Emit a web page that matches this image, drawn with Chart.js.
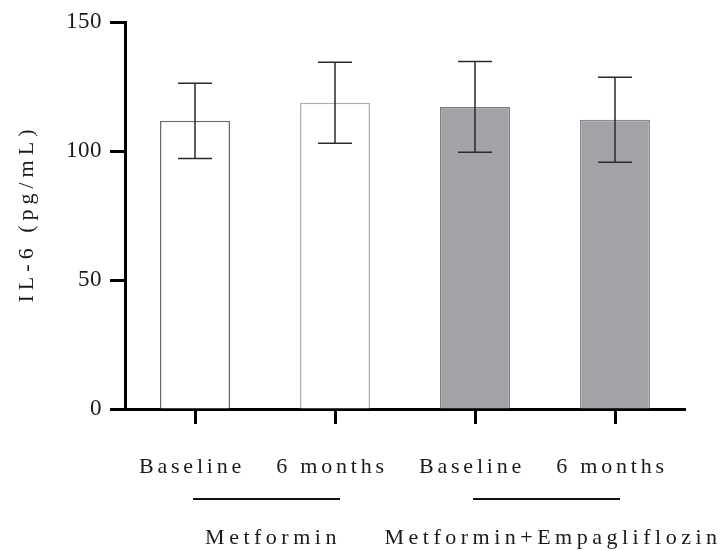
<!DOCTYPE html>
<html>
<head>
<meta charset="utf-8">
<style>
    html, body { margin: 0; padding: 0; background: #fff; }
    #wrap { width: 726px; height: 551px; }
</style>
<script src="https://cdn.jsdelivr.net/npm/chart.js@4.4.1/dist/chart.umd.min.js"></script>
</head>
<body>
<div id="wrap"><canvas id="il6Chart" width="726" height="551"></canvas></div>
<script>
const categories = ['Baseline', '6 months', 'Baseline', '6 months'];
const groups = [
    {label: 'Metformin', from: 0, to: 1},
    {label: 'Metformin+Empagliflozin', from: 2, to: 3}
];
const means = [111.7, 118.7, 117.1, 112.1];
const sds = [14.6, 15.7, 17.6, 16.5];
const yTicks = [0, 50, 100, 150];
const yTitle = 'IL-6 (pg/mL)';

const fontFamily = "'Liberation Serif', 'Times New Roman', serif";

document.addEventListener('DOMContentLoaded', function () {
    const ctx = document.getElementById('il6Chart').getContext('2d');

    const spacing = {
        id: 'spacing',
        beforeDraw(chart) {
            // spread digits a little like the original
            chart.ctx.letterSpacing = '0.5px';
        }
    };

    const errorBars = {
        id: 'errorBars',
        afterDatasetsDraw(chart) {
            const {ctx, scales: {y}} = chart;
            const meta = chart.getDatasetMeta(0);
            ctx.save();
            ctx.strokeStyle = '#2a2a2a';
            ctx.lineWidth = 1.5;
            meta.data.forEach((bar, i) => {
                const top = y.getPixelForValue(means[i] + sds[i]);
                const bot = y.getPixelForValue(means[i] - sds[i]);
                ctx.beginPath();
                ctx.moveTo(bar.x, top);
                ctx.lineTo(bar.x, bot);
                ctx.moveTo(bar.x - 17, top);
                ctx.lineTo(bar.x + 17, top);
                ctx.moveTo(bar.x - 17, bot);
                ctx.lineTo(bar.x + 17, bot);
                ctx.stroke();
            });
            ctx.restore();
        }
    };

    const labels = {
        id: 'labels',
        afterDraw(chart) {
            const {ctx, chartArea, scales: {x}} = chart;
            const base = chartArea.bottom;
            ctx.save();
            ctx.fillStyle = '#1a1a1a';
            ctx.textBaseline = 'alphabetic';
            ctx.textAlign = 'center';

            ctx.font = '22px ' + fontFamily;
            ctx.letterSpacing = '3.8px';
            categories.forEach((c, i) => {
                ctx.fillText(c, x.getPixelForValue(i) - 3, base + 64);
            });

            ctx.letterSpacing = '4.5px';
            ctx.strokeStyle = '#111';
            ctx.lineWidth = 2;
            groups.forEach(g => {
                const x1 = x.getPixelForValue(g.from);
                const x2 = x.getPixelForValue(g.to);
                ctx.beginPath();
                ctx.moveTo(x1 - 2, base + 90);
                ctx.lineTo(x2 + 5, base + 90);
                ctx.stroke();
                ctx.fillText(g.label, (x1 + x2) / 2 + 8, base + 135);
            });

            // rotated y axis title
            ctx.letterSpacing = '5px';
            ctx.translate(27, (chartArea.top + chartArea.bottom) / 2);
            ctx.rotate(-Math.PI / 2);
            ctx.textBaseline = 'middle';
            ctx.fillText(yTitle, 2, 0);
            ctx.restore();
        }
    };

    const il6Chart = new Chart(ctx, {
        type: 'bar',
        data: {
            labels: categories,
            datasets: [{
                data: means,
                backgroundColor: ['#ffffff', '#ffffff', '#a3a2a7', '#a3a2a7'],
                borderColor: ['#6a6a6a', '#b0b0b0', '#7c7c80', '#8a8a8e'],
                borderWidth: 1.5,
                barPercentage: 0.5,
                categoryPercentage: 1.0
            }]
        },
        options: {
            responsive: false,
            animation: false,
            layout: {padding: {top: 22, right: 41, bottom: 0, left: 0}},
            plugins: {
                legend: {display: false},
                tooltip: {enabled: false}
            },
            scales: {
                x: {
                    ticks: {display: false},
                    grid: {
                        display: true,
                        drawOnChartArea: false,
                        drawTicks: true,
                        offset: false,
                        tickLength: 15,
                        tickWidth: 3,
                        tickColor: '#000'
                    },
                    border: {display: true, color: '#000', width: 3},
                    afterFit(scale) { scale.height = 142; }
                },
                y: {
                    min: 0,
                    max: 150,
                    afterBuildTicks(scale) {
                        scale.ticks = yTicks.map(v => ({value: v}));
                    },
                    ticks: {
                        padding: 8,
                        color: '#1a1a1a',
                        font: {family: fontFamily, size: 23}
                    },
                    grid: {
                        display: true,
                        drawOnChartArea: false,
                        drawTicks: true,
                        tickLength: 15,
                        tickWidth: 3,
                        tickColor: '#000'
                    },
                    border: {display: true, color: '#000', width: 3},
                    afterFit(scale) { scale.width = 125; }
                }
            }
        },
        plugins: [spacing, errorBars, labels]
    });
});
</script>
</body>
</html>
